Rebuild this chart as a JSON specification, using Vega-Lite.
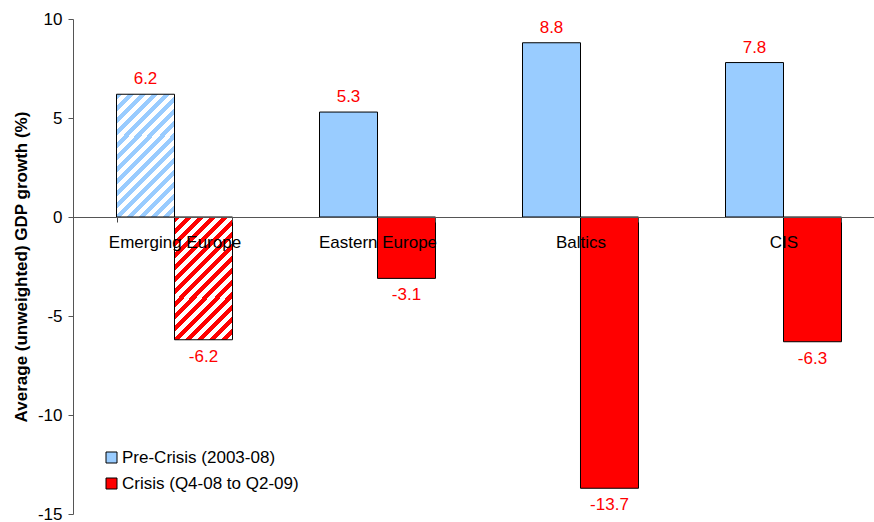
{
  "$schema": "https://vega.github.io/schema/vega-lite/v6.json",
  "width": 801,
  "height": 495,
  "autosize": {"type": "none"},
  "padding": {"left": 73, "top": 19, "right": 0, "bottom": 8},
  "background": "white",
  "config": {
    "view": {"stroke": null},
    "font": "Liberation Sans, Arial, sans-serif",
    "locale": {
      "number": {"decimal": ".", "thousands": ",", "grouping": [3], "currency": ["$", ""], "minus": "-"}
    }
  },
  "data": {
    "values": [
      {"region": "Emerging Europe", "period": "Pre-Crisis (2003-08)", "value": 6.2},
      {"region": "Emerging Europe", "period": "Crisis (Q4-08 to Q2-09)", "value": -6.2},
      {"region": "Eastern Europe", "period": "Pre-Crisis (2003-08)", "value": 5.3},
      {"region": "Eastern Europe", "period": "Crisis (Q4-08 to Q2-09)", "value": -3.1},
      {"region": "Baltics", "period": "Pre-Crisis (2003-08)", "value": 8.8},
      {"region": "Baltics", "period": "Crisis (Q4-08 to Q2-09)", "value": -13.7},
      {"region": "CIS", "period": "Pre-Crisis (2003-08)", "value": 7.8},
      {"region": "CIS", "period": "Crisis (Q4-08 to Q2-09)", "value": -6.3}
    ]
  },
  "encoding": {
    "x": {
      "field": "region",
      "type": "nominal",
      "sort": ["Emerging Europe", "Eastern Europe", "Baltics", "CIS"],
      "scale": {"range": [0, 812], "paddingInner": 0.4286, "paddingOuter": 0.2143},
      "axis": {
        "title": null,
        "orient": "bottom",
        "offset": -297,
        "zindex": 1,
        "domainColor": "#555555",
        "tickColor": "#444444",
        "tickSize": 5,
        "tickBand": "extent",
        "labelAngle": 0,
        "labelFontSize": 17,
        "labelColor": "black",
        "labelPadding": 12,
        "labelOverlap": false
      }
    },
    "xOffset": {
      "field": "period",
      "type": "nominal",
      "scale": {"domain": ["Pre-Crisis (2003-08)", "Crisis (Q4-08 to Q2-09)"], "paddingInner": 0, "paddingOuter": 0}
    },
    "y": {
      "field": "value",
      "type": "quantitative",
      "scale": {"domain": [-15, 10], "nice": false, "zero": false},
      "axis": {
        "title": "Average (unweighted) GDP growth (%)",
        "titleFontSize": 17,
        "titleFontWeight": "bold",
        "titleColor": "black",
        "titlePadding": 7,
        "values": [-15, -10, -5, 0, 5, 10],
        "grid": false,
        "domainColor": "#555555",
        "tickColor": "#555555",
        "tickSize": 5,
        "labelFontSize": 17,
        "labelColor": "black",
        "labelPadding": 6
      }
    }
  },
  "layer": [
    {
      "transform": [{"filter": "datum.region != 'Emerging Europe'"}],
      "mark": {"type": "bar", "stroke": "black", "strokeWidth": 1},
      "encoding": {
        "color": {
          "field": "period",
          "type": "nominal",
          "scale": {
            "domain": ["Pre-Crisis (2003-08)", "Crisis (Q4-08 to Q2-09)"],
            "range": ["#99CCFF", "#FF0000"]
          },
          "legend": {
            "title": null,
            "orient": "none",
            "legendX": 30,
            "legendY": 430,
            "padding": 0,
            "symbolType": "square",
            "symbolSize": 121,
            "symbolStrokeColor": "black",
            "symbolStrokeWidth": 1,
            "symbolOpacity": 1,
            "labelFontSize": 17,
            "labelColor": "black",
            "labelOffset": 2,
            "labelLimit": 400,
            "rowPadding": 8
          }
        }
      }
    },
    {
      "transform": [{"filter": "datum.region == 'Emerging Europe' && datum.value >= 0"}],
      "mark": {
        "type": "bar",
        "stroke": "black",
        "strokeWidth": 1,
        "fill": {
          "gradient": "linear",
          "x1": 0, "y1": 0, "x2": 0.5721, "y2": 1.2034,
          "stops": [
            {"offset": 0, "color": "#99CCFF"}, {"offset": 0.0333, "color": "#99CCFF"}, {"offset": 0.0333, "color": "white"}, {"offset": 0.0667, "color": "white"},
            {"offset": 0.0667, "color": "#99CCFF"}, {"offset": 0.1, "color": "#99CCFF"}, {"offset": 0.1, "color": "white"}, {"offset": 0.1333, "color": "white"},
            {"offset": 0.1333, "color": "#99CCFF"}, {"offset": 0.1667, "color": "#99CCFF"}, {"offset": 0.1667, "color": "white"}, {"offset": 0.2, "color": "white"},
            {"offset": 0.2, "color": "#99CCFF"}, {"offset": 0.2333, "color": "#99CCFF"}, {"offset": 0.2333, "color": "white"}, {"offset": 0.2667, "color": "white"},
            {"offset": 0.2667, "color": "#99CCFF"}, {"offset": 0.3, "color": "#99CCFF"}, {"offset": 0.3, "color": "white"}, {"offset": 0.3333, "color": "white"},
            {"offset": 0.3333, "color": "#99CCFF"}, {"offset": 0.3667, "color": "#99CCFF"}, {"offset": 0.3667, "color": "white"}, {"offset": 0.4, "color": "white"},
            {"offset": 0.4, "color": "#99CCFF"}, {"offset": 0.4333, "color": "#99CCFF"}, {"offset": 0.4333, "color": "white"}, {"offset": 0.4667, "color": "white"},
            {"offset": 0.4667, "color": "#99CCFF"}, {"offset": 0.5, "color": "#99CCFF"}, {"offset": 0.5, "color": "white"}, {"offset": 0.5333, "color": "white"},
            {"offset": 0.5333, "color": "#99CCFF"}, {"offset": 0.5667, "color": "#99CCFF"}, {"offset": 0.5667, "color": "white"}, {"offset": 0.6, "color": "white"},
            {"offset": 0.6, "color": "#99CCFF"}, {"offset": 0.6333, "color": "#99CCFF"}, {"offset": 0.6333, "color": "white"}, {"offset": 0.6667, "color": "white"},
            {"offset": 0.6667, "color": "#99CCFF"}, {"offset": 0.7, "color": "#99CCFF"}, {"offset": 0.7, "color": "white"}, {"offset": 0.7333, "color": "white"},
            {"offset": 0.7333, "color": "#99CCFF"}, {"offset": 0.7667, "color": "#99CCFF"}, {"offset": 0.7667, "color": "white"}, {"offset": 0.8, "color": "white"},
            {"offset": 0.8, "color": "#99CCFF"}, {"offset": 0.8333, "color": "#99CCFF"}, {"offset": 0.8333, "color": "white"}, {"offset": 0.8667, "color": "white"},
            {"offset": 0.8667, "color": "#99CCFF"}, {"offset": 0.9, "color": "#99CCFF"}, {"offset": 0.9, "color": "white"}, {"offset": 0.9333, "color": "white"},
            {"offset": 0.9333, "color": "#99CCFF"}, {"offset": 0.9667, "color": "#99CCFF"}, {"offset": 0.9667, "color": "white"}, {"offset": 1, "color": "white"}
          ]
        }
      }
    },
    {
      "transform": [{"filter": "datum.region == 'Emerging Europe' && datum.value < 0"}],
      "mark": {
        "type": "bar",
        "stroke": "black",
        "strokeWidth": 1,
        "fill": {
          "gradient": "linear",
          "x1": 0, "y1": 0, "x2": 0.5721, "y2": 1.2034,
          "stops": [
            {"offset": 0, "color": "#FF0000"}, {"offset": 0.0333, "color": "#FF0000"}, {"offset": 0.0333, "color": "white"}, {"offset": 0.0667, "color": "white"},
            {"offset": 0.0667, "color": "#FF0000"}, {"offset": 0.1, "color": "#FF0000"}, {"offset": 0.1, "color": "white"}, {"offset": 0.1333, "color": "white"},
            {"offset": 0.1333, "color": "#FF0000"}, {"offset": 0.1667, "color": "#FF0000"}, {"offset": 0.1667, "color": "white"}, {"offset": 0.2, "color": "white"},
            {"offset": 0.2, "color": "#FF0000"}, {"offset": 0.2333, "color": "#FF0000"}, {"offset": 0.2333, "color": "white"}, {"offset": 0.2667, "color": "white"},
            {"offset": 0.2667, "color": "#FF0000"}, {"offset": 0.3, "color": "#FF0000"}, {"offset": 0.3, "color": "white"}, {"offset": 0.3333, "color": "white"},
            {"offset": 0.3333, "color": "#FF0000"}, {"offset": 0.3667, "color": "#FF0000"}, {"offset": 0.3667, "color": "white"}, {"offset": 0.4, "color": "white"},
            {"offset": 0.4, "color": "#FF0000"}, {"offset": 0.4333, "color": "#FF0000"}, {"offset": 0.4333, "color": "white"}, {"offset": 0.4667, "color": "white"},
            {"offset": 0.4667, "color": "#FF0000"}, {"offset": 0.5, "color": "#FF0000"}, {"offset": 0.5, "color": "white"}, {"offset": 0.5333, "color": "white"},
            {"offset": 0.5333, "color": "#FF0000"}, {"offset": 0.5667, "color": "#FF0000"}, {"offset": 0.5667, "color": "white"}, {"offset": 0.6, "color": "white"},
            {"offset": 0.6, "color": "#FF0000"}, {"offset": 0.6333, "color": "#FF0000"}, {"offset": 0.6333, "color": "white"}, {"offset": 0.6667, "color": "white"},
            {"offset": 0.6667, "color": "#FF0000"}, {"offset": 0.7, "color": "#FF0000"}, {"offset": 0.7, "color": "white"}, {"offset": 0.7333, "color": "white"},
            {"offset": 0.7333, "color": "#FF0000"}, {"offset": 0.7667, "color": "#FF0000"}, {"offset": 0.7667, "color": "white"}, {"offset": 0.8, "color": "white"},
            {"offset": 0.8, "color": "#FF0000"}, {"offset": 0.8333, "color": "#FF0000"}, {"offset": 0.8333, "color": "white"}, {"offset": 0.8667, "color": "white"},
            {"offset": 0.8667, "color": "#FF0000"}, {"offset": 0.9, "color": "#FF0000"}, {"offset": 0.9, "color": "white"}, {"offset": 0.9333, "color": "white"},
            {"offset": 0.9333, "color": "#FF0000"}, {"offset": 0.9667, "color": "#FF0000"}, {"offset": 0.9667, "color": "white"}, {"offset": 1, "color": "white"}
          ]
        }
      }
    },
    {
      "transform": [{"filter": "datum.value >= 0"}],
      "mark": {"type": "text", "color": "#FF0000", "fontSize": 17, "baseline": "alphabetic", "dy": -10},
      "encoding": {"text": {"field": "value", "type": "quantitative", "format": ".1f"}}
    },
    {
      "transform": [{"filter": "datum.value < 0"}],
      "mark": {"type": "text", "color": "#FF0000", "fontSize": 17, "baseline": "alphabetic", "dy": 22},
      "encoding": {"text": {"field": "value", "type": "quantitative", "format": ".1f"}}
    }
  ]
}
